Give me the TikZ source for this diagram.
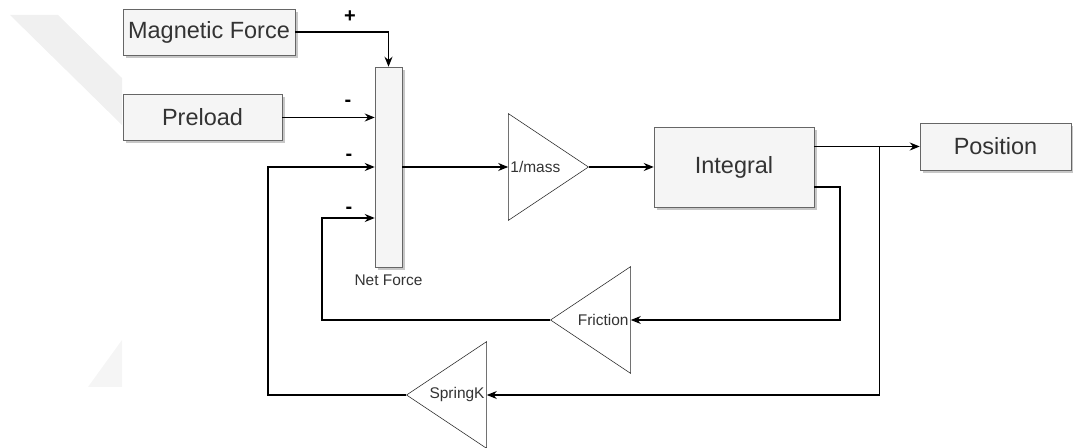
\documentclass[tikz,border=0pt]{standalone}
\usepackage{fontspec}
\setmainfont{Liberation Sans}
\usetikzlibrary{shapes.geometric, arrows.meta, positioning, calc, shadows}
\definecolor{boxfill}{HTML}{F5F5F5}
\definecolor{boxline}{HTML}{666666}
\definecolor{txtgray}{HTML}{333333}
\tikzset{
    block/.style={rectangle, draw=boxline, fill=boxfill, text=txtgray, font=\fontsize{17.6}{20}\selectfont, inner sep=0pt, drop shadow={shadow xshift=2.25pt, shadow yshift=-2.25pt, fill=black!22, opacity=1}},
    gain/.style={isosceles triangle, isosceles triangle stretches, draw=black!85, fill=white, minimum width=80pt, minimum height=60pt, inner sep=0pt},
    gainlbl/.style={font=\fontsize{11.6}{13}\selectfont, text=txtgray, inner sep=1.5pt},
    sign/.style={font=\fontsize{15}{17}\selectfont\bfseries, inner sep=0pt},
    arrowline/.style={-{Stealth[length=7.5pt, width=6pt]}, line width=0.9pt}
}
\begin{document}
\begin{tikzpicture}[x=0.75pt, y=-0.75pt]
  \useasboundingbox (0,0) rectangle (1073,448);
  % faint background marks
  \fill[black!6] (10,15) -- (58,15) -- (122,78) -- (122,125) -- cycle;
  \fill[black!4] (122,340) -- (122,387) -- (88,387) -- cycle;
  % blocks
  \node[block, minimum width=129pt, minimum height=34.5pt] (magf) at (209,32) {Magnetic Force};
  \node[block, minimum width=119.25pt, minimum height=34.5pt] (pre) at (202.5,117.5) {Preload};
  \node[block, minimum width=20.25pt, minimum height=150pt, label={[gainlbl, label distance=4pt]below:Net Force}] (net) at (388.5,167) {};
  \node[gain] (mass) at (537,167) {};
  \node[gainlbl, anchor=west] (masslbl) at (mass.lower side) {1/mass};
  \node[block, minimum width=120pt, minimum height=60pt] (integ) at (734,167) {Integral};
  \node[block, minimum width=113.25pt, minimum height=35.25pt] (pos) at (995.5,146.5) {Position};
  \node[gain, shape border rotate=180] (fric) at (602,320) {};
  \node[gainlbl, anchor=east] (friclbl) at (fric.lower side) {Friction};
  \node[gain, shape border rotate=180] (spring) at (458,395) {};
  \node[gainlbl, anchor=east] (springlbl) at (spring.lower side) {SpringK};
  % signs
  \node[sign] (plus) at (350,17) {+};
  \node[sign] (minA) at (348,103) {-};
  \node[sign] (minB) at (349,157) {-};
  \node[sign] (minC) at (349,210) {-};
  % corners of the feedback loops
  \coordinate (tap) at ($(pos.west)+(-40,0)$);
  \coordinate (frturn) at (840,320);
  \coordinate (frleft) at (322,320);
  \coordinate (spleft) at (268,395);
  % connectors
  \draw[arrowline] (magf.east) -| (net.north);
  \draw[arrowline] (pre.east) -- (pre.east -| net.west);
  \draw[arrowline] (spring.apex) -- (spleft) |- (net.west);
  \draw[arrowline] (fric.apex) -- (frleft) |- ($(net.west)+(0,51)$);
  \draw[arrowline] (net.east) -- (mass.lower side);
  \draw[arrowline] (mass.apex) -- (integ.west);
  \draw[arrowline] (pos.west -| integ.east) -- (pos.west);
  \draw[arrowline] (tap) |- (spring.lower side);
  \draw[arrowline] ($(integ.east)+(0,20)$) -| (frturn) -- (fric.lower side);
\end{tikzpicture}
\end{document}
